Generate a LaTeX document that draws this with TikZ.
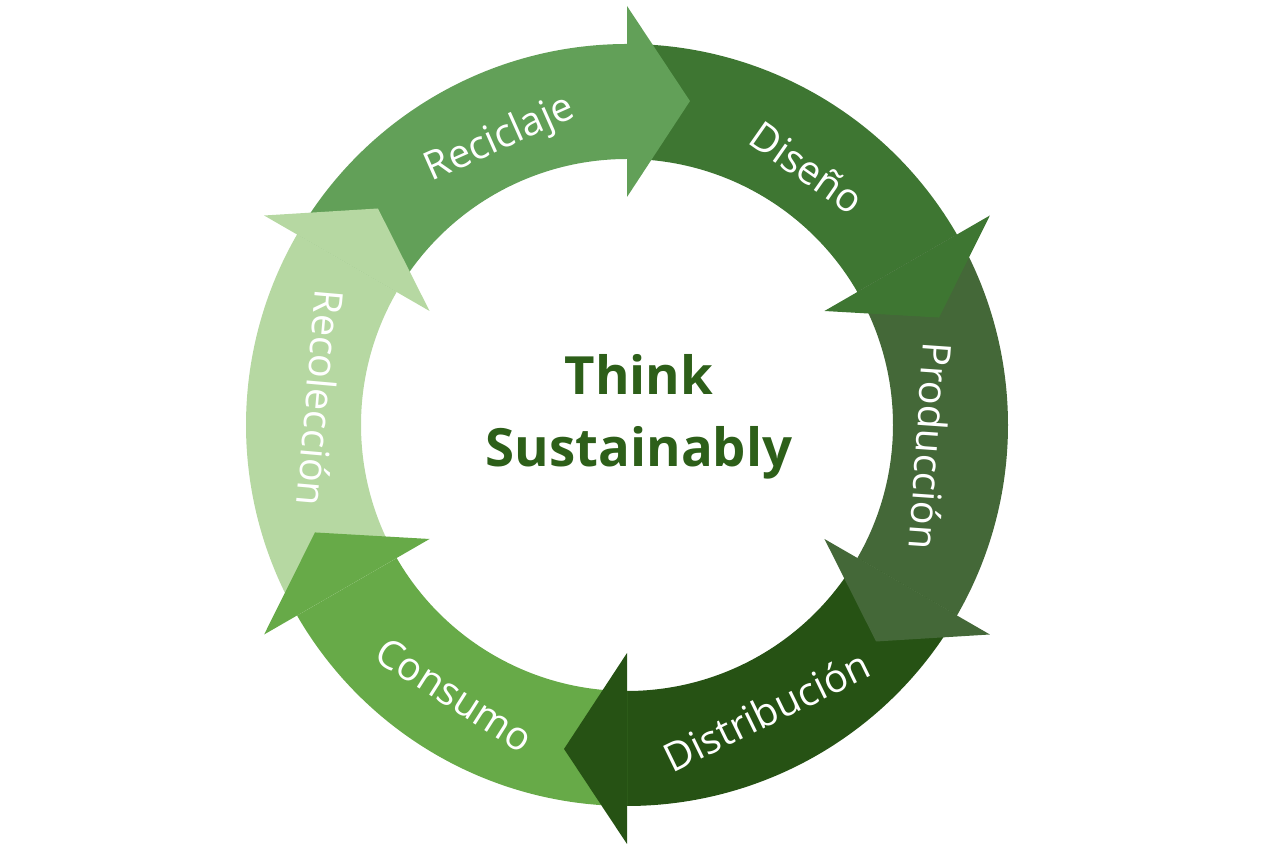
\documentclass[tikz,border=0pt]{standalone}
\usepackage{fontspec}
\setmainfont{Open Sans}
\usepackage{tikz}
\definecolor {reciclaje}{HTML}{62A058}
\definecolor {diseno}{HTML}{3E7632}
\definecolor {produccion}{HTML}{446838}
\definecolor {distribucion}{HTML}{265214}
\definecolor {consumo}{HTML}{67AA48}
\definecolor {recoleccion}{HTML}{B6D8A2}
\definecolor {titlegreen}{HTML}{2D5F19}

\begin{document}
\begin{tikzpicture}[
stage/.style ={ text=white , font=\fontsize{22.5}{27}\selectfont , inner sep=0pt},
title/.style ={ text=titlegreen , align=center , font=\fontsize{30}{41}\selectfont\bfseries}]
  \useasboundingbox (0,0) rectangle (25.6,17.06);
  \begin{scope}[shift={(12.54,8.56)}]
  \fill[reciclaje] (150:7.62) arc[start angle=150, end angle=90, radius=7.62] -- (90:5.32) arc[start angle=90, end angle=150, radius=5.32] -- cycle;
  \fill[diseno] (90:7.62) arc[start angle=90, end angle=30, radius=7.62] -- (30:5.32) arc[start angle=30, end angle=90, radius=5.32] -- cycle;
  \fill[produccion] (30:7.62) arc[start angle=30, end angle=-30, radius=7.62] -- (-30:5.32) arc[start angle=-30, end angle=30, radius=5.32] -- cycle;
  \fill[distribucion] (-30:7.62) arc[start angle=-30, end angle=-90, radius=7.62] -- (-90:5.32) arc[start angle=-90, end angle=-30, radius=5.32] -- cycle;
  \fill[consumo] (-90:7.62) arc[start angle=-90, end angle=-150, radius=7.62] -- (-150:5.32) arc[start angle=-150, end angle=-90, radius=5.32] -- cycle;
  \fill[recoleccion] (210:7.62) arc[start angle=210, end angle=150, radius=7.62] -- (150:5.32) arc[start angle=150, end angle=210, radius=5.32] -- cycle;
  \fill[reciclaje] (90:8.38) -- (79:6.6) -- (90:4.56) -- cycle;
  \fill[diseno] (30:8.38) -- (19:6.6) -- (30:4.56) -- cycle;
  \fill[produccion] (-30:8.38) -- (-41:6.6) -- (-30:4.56) -- cycle;
  \fill[distribucion] (-90:8.38) -- (-101:6.6) -- (-90:4.56) -- cycle;
  \fill[consumo] (-150:8.38) -- (-161:6.6) -- (-150:4.56) -- cycle;
  \fill[recoleccion] (150:8.38) -- (139:6.6) -- (150:4.56) -- cycle;
  \node[stage, rotate=24](Reciclaje) at (114:6.25){Reciclaje};
  \node[stage, rotate=-35](Diseno) at (55:6.28){Diseño};
  \node[stage, rotate=-94](Produccion) at (-4:6.1){Producción};
  \node[stage, rotate=26](Distribucion) at (-64:6.36){Distribución};
  \node[stage, rotate=-32.5](Consumo) at (-122.5:6.4){Consumo};
  \node[stage, rotate=-95](Recoleccion) at (175:6.14){Recolección};
  \node[title](think) at (0.24,0.16){Think\\Sustainably};
  \end{scope}
\end{tikzpicture}
\end{document}
